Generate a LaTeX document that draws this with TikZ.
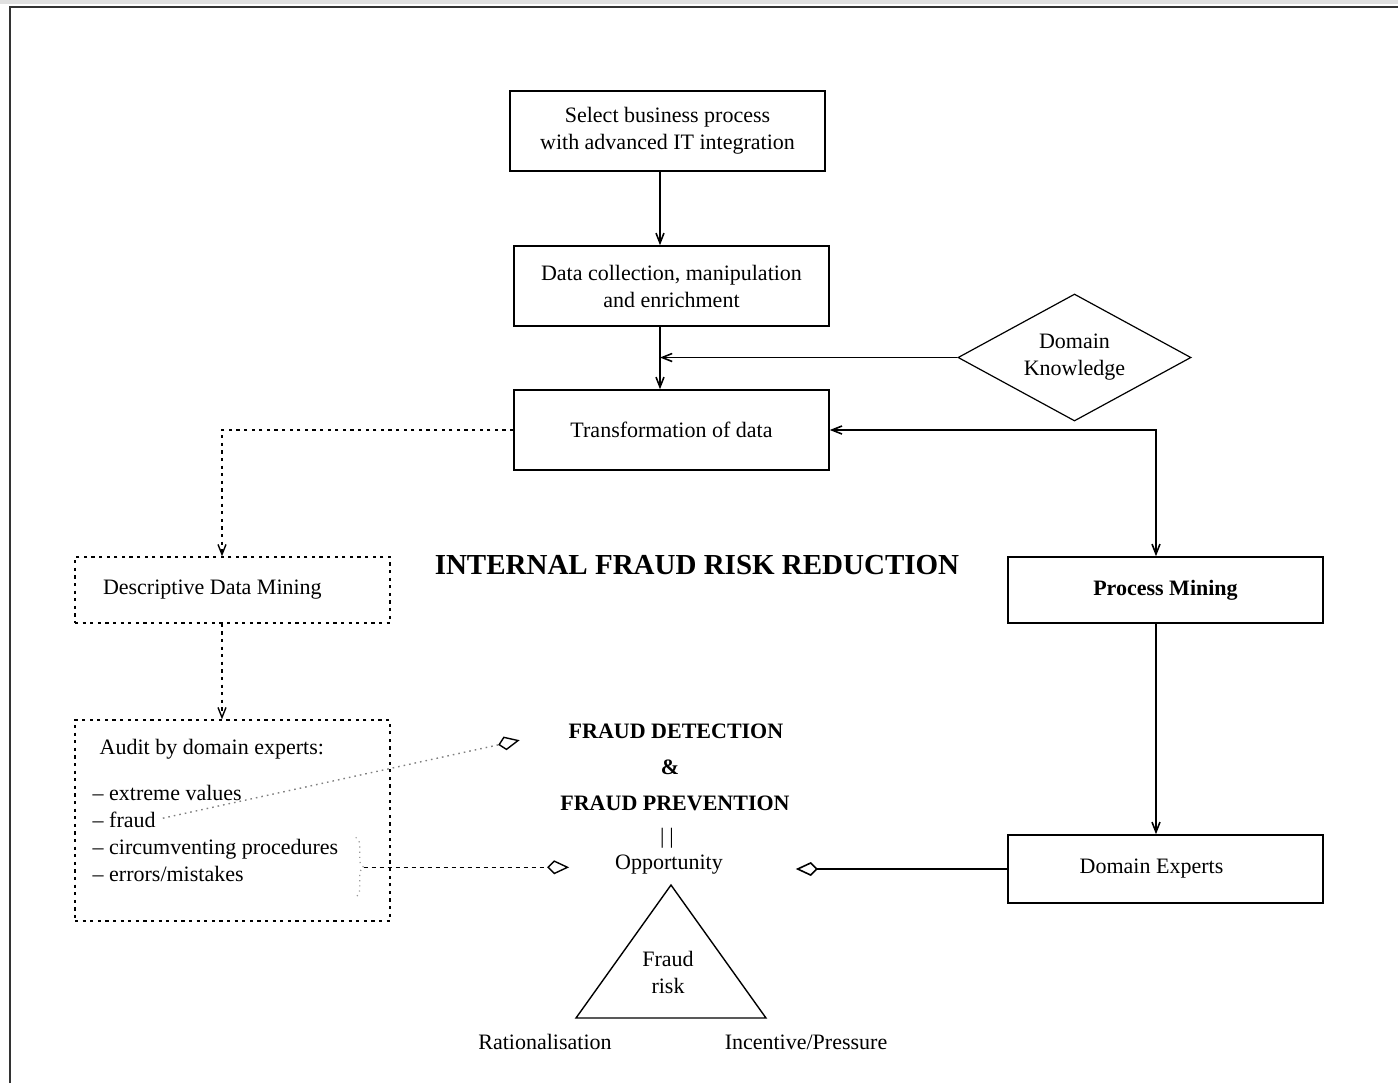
\documentclass[tikz,border=0pt]{standalone}
\usepackage{fontspec}
\setmainfont{Liberation Serif}
\usepackage{tikz}
\usetikzlibrary{shapes.geometric, arrows.meta, decorations.pathreplacing}
\tikzstyle{process} = [rectangle, minimum width=157.5pt, minimum height=40pt, text centered, draw=black, line width=0.8pt, inner sep=2pt]
\tikzstyle{slim} = [process, minimum height=33pt]
\tikzstyle{mining} = [rectangle, minimum width=157.5pt, minimum height=33pt, draw=black, line width=0.7pt, dash pattern=on 1.6pt off 2.2pt, inner sep=2pt]
\tikzstyle{decision} = [diamond, aspect=1.83, minimum width=116.5pt, minimum height=63.5pt, draw=black, line width=0.6pt, inner sep=1pt]
\tikzstyle{item} = [anchor=base west, inner sep=0pt]
\tikzstyle{heading} = [font=\bfseries\fontsize{11}{13.5}\selectfont]
\tikzstyle{arrow} = [line width=0.8pt, ->, >={Straight Barb[length=5pt,width=4pt]}]
\tikzstyle{dotarrow} = [arrow, line width=0.7pt, dash pattern=on 1.6pt off 2.2pt]
\tikzstyle{openarrow} = [line width=0.8pt, -{Kite[open, color=black, length=11pt, width=7pt, inset=3.5pt]}]

\begin{document}
\begin{tikzpicture}[node distance=72pt, align=center, font=\fontsize{11}{13.5}\selectfont]

% Page frame
\useasboundingbox (0,0) rectangle (699pt,-541.5pt);
\fill[black!12] (0,0) rectangle (699pt,-2pt);
\draw[black!80, line width=1.1pt] (5pt,-541.5pt) |- (699pt,-3.5pt);

% Main column
\node (select) [process] at (333.75pt,-65.5pt) {Select business process\\with advanced IT integration};
\node (collect) [process, below of=select, xshift=2pt, yshift=-5.5pt] {Data collection, manipulation\\and enrichment};
\node (trans) [process, below of=collect] {Transformation of data};
\node (know) [decision, right of=trans, xshift=129.5pt, yshift=36.25pt] {Domain\\Knowledge};

% Title
\node (title) [below of=trans, xshift=12.75pt, yshift=4.5pt, font=\bfseries\fontsize{14.5}{17}\selectfont] {INTERNAL FRAUD RISK REDUCTION};

% Right branch
\node (pm) [slim, below of=trans, xshift=247pt, yshift=-8pt, heading] {Process Mining};
\node (de) [slim, below of=pm, yshift=-67.5pt, minimum height=34pt, text width=143.5pt, inner xsep=7pt, align=flush center] {\hspace*{-14pt}Domain Experts};

% Left branch
\node (ddm) [mining, below of=trans, xshift=-219.5pt, yshift=-8pt, text width=129.5pt, inner xsep=14pt, align=flush left] {Descriptive Data Mining};
\node (audit) [mining, below of=ddm, yshift=-43.25pt, minimum height=100.5pt] {};
\node (atitle) [item] at ([xshift=12.5pt, yshift=-17.5pt]audit.north west) {Audit by domain experts:};
\node (i1) [item] at ([xshift=9pt, yshift=-40.5pt]audit.north west) {-- extreme values};
\node (i2) [item] at ([xshift=9pt, yshift=-54pt]audit.north west) {-- fraud};
\node (i3) [item] at ([xshift=9pt, yshift=-67.5pt]audit.north west) {-- circumventing procedures};
\node (i4) [item] at ([xshift=9pt, yshift=-81pt]audit.north west) {-- errors/mistakes};

% Brace
\coordinate (btop) at ([xshift=-17.5pt, yshift=-59pt]audit.north east);
\coordinate (bbot) at ([xshift=-17.5pt, yshift=-89pt]audit.north east);
\coordinate (btip) at ([xshift=-13.5pt, yshift=-74pt]audit.north east);
\draw[gray!80, dotted, line width=0.6pt, decorate, decoration={brace, amplitude=4pt}] (btop) -- (bbot);

% Centre stack
\node (opp) [left of=de, xshift=-176.25pt, yshift=2pt] {Opportunity};
\node (eq) [above of=opp, xshift=-1pt, yshift=-58.5pt] {|\kern2.5pt|};
\node (prev) [above of=eq, xshift=4pt, yshift=-54.5pt, heading] {FRAUD PREVENTION};
\node (amp) [above of=prev, xshift=-2.5pt, yshift=-54pt, heading] {\&};
\node (det) [above of=amp, xshift=3pt, yshift=-54pt, heading] {FRAUD DETECTION};

% Fraud triangle
\coordinate (apex) at ([xshift=1pt, yshift=-10pt]opp);
\coordinate (rl) at ([xshift=-47.5pt, yshift=-66.5pt]apex);
\coordinate (ip) at ([xshift=47.5pt, yshift=-66.5pt]apex);
\draw[line width=0.7pt] (apex) -- (rl) -- (ip) -- cycle;
\node (risk) at ([xshift=-1.5pt, yshift=-43.5pt]apex) {Fraud\\risk};
\node (rat) at ([xshift=-15.5pt, yshift=-12pt]rl) {Rationalisation};
\node (inc) at ([xshift=20pt, yshift=-12pt]ip) {Incentive/Pressure};

% Drawing arrows
\coordinate (spine) at ([xshift=-5.75pt]collect.south);
\draw [arrow] ([xshift=-3.75pt]select.south) -- ([xshift=-3.75pt]select.south |- collect.north);
\draw [arrow] (spine) -- (spine |- trans.north);
\draw [arrow] (know.west) -- (know.west -| spine);
\draw [arrow, <->] (trans.east) -| ([xshift=-4.75pt]pm.north);
\draw [arrow] ([xshift=-4.75pt]pm.south) -- ([xshift=-4.75pt]pm.south |- de.north);
\draw [openarrow, shorten >=33pt] (de.west) -- (de.west -| opp.east);
\draw [dotarrow] (trans.west) -| ([xshift=-5.25pt]ddm.north);
\draw [dotarrow] ([xshift=-5.25pt]ddm.south) -- ([xshift=-5.25pt]ddm.south |- audit.north);
\draw [openarrow, dash pattern=on 2pt off 2pt, line width=0.7pt, shorten >=19.5pt] (btip) -- (btip -| opp.west);
\draw [openarrow, gray, dotted, line width=0.7pt, shorten <=3.5pt, shorten >=21.5pt] (i2.east) -- (det.west);

\end{tikzpicture}
\end{document}
